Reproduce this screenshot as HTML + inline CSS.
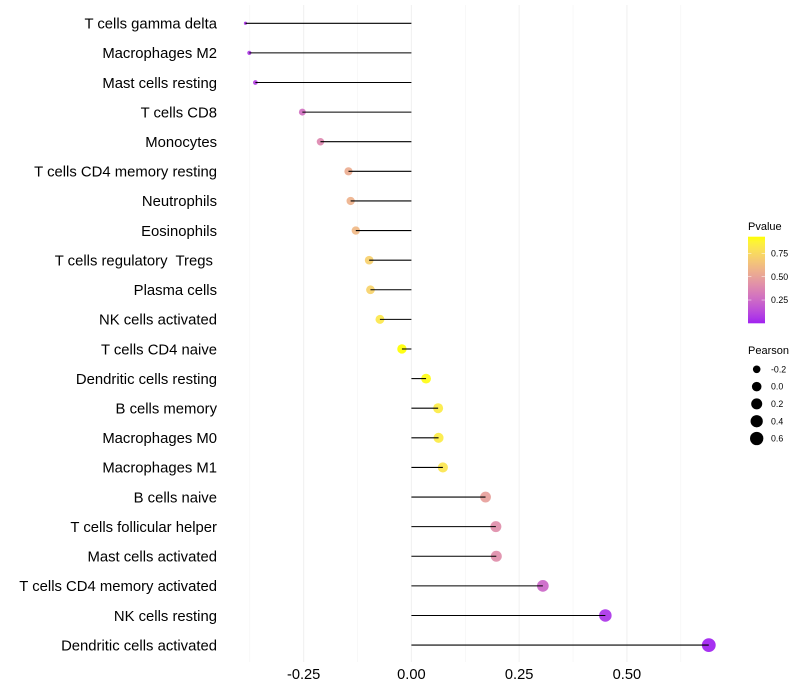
<!DOCTYPE html>
<html>
<head>
<meta charset="utf-8">
<title>Immune cell correlation lollipop chart</title>
<style>
html,body{margin:0;padding:0;background:#fff;width:800px;height:700px;overflow:hidden}
svg{display:block;font-family:"Liberation Sans",Arial,sans-serif}
text{white-space:pre}
</style>
</head>
<body>
<svg id="chart" width="800" height="700" viewBox="0 0 800 700" xmlns="http://www.w3.org/2000/svg">
  <g id="grid"></g>
  <g id="points"></g>
  <g id="stems"></g>
  <g id="ylabels"></g>
  <g id="xlabels"></g>
  <g id="color-legend">
    <text x="748" y="230" font-size="11" fill="#000">Pvalue</text>
  </g>
  <g id="size-legend">
    <text x="748" y="354" font-size="11" fill="#000">Pearson</text>
  </g>
</svg>
<script>
var categories = ["T cells gamma delta","Macrophages M2","Mast cells resting","T cells CD8","Monocytes","T cells CD4 memory resting","Neutrophils","Eosinophils","T cells regulatory  Tregs ","Plasma cells","NK cells activated","T cells CD4 naive","Dendritic cells resting","B cells memory","Macrophages M0","Macrophages M1","B cells naive","T cells follicular helper","Mast cells activated","T cells CD4 memory activated","NK cells resting","Dendritic cells activated"];
var pearson = [-0.385,-0.376,-0.362,-0.253,-0.211,-0.146,-0.141,-0.129,-0.098,-0.095,-0.073,-0.022,0.034,0.062,0.063,0.073,0.172,0.196,0.197,0.305,0.45,0.69];
var pvalue = [0.05,0.06,0.09,0.28,0.38,0.55,0.57,0.6,0.71,0.72,0.82,0.93,0.92,0.84,0.84,0.81,0.49,0.41,0.41,0.24,0.05,0.0];
var xTicks = [-0.25,0,0.25,0.5];
var xTickLabels = ["-0.25","0.00","0.25","0.50"];
var xMinorTicks = [-0.375,-0.125,0.125,0.375,0.625];
var pvalueTicks = [0.25,0.5,0.75];
var pvalueTickLabels = ["0.25","0.50","0.75"];
var pearsonLegend = [-0.2,0,0.2,0.4,0.6];
var pearsonLegendLabels = ["-0.2","0.0","0.2","0.4","0.6"];

var NS = "http://www.w3.org/2000/svg";
function mk(tag, attrs, parent, txt) {
  var e = document.createElementNS(NS, tag);
  for (var k in attrs) e.setAttribute(k, attrs[k]);
  if (txt !== undefined) e.textContent = txt;
  parent.appendChild(e);
  return e;
}
function xScale(v) { return 411.4 + v * 431; }
function yScale(i) { return 23.28 + i * 29.61; }

var pMin = Math.min.apply(null, pvalue), pMax = Math.max.apply(null, pvalue);
var sMin = Math.min.apply(null, pearson), sMax = Math.max.apply(null, pearson);
function rScale(v) {
  var t = Math.max(0, (v - sMin) / (sMax - sMin));
  return 1.6 + 5.3 * Math.sqrt(t);
}
/* Lab interpolation between purple and yellow */
function toLab(c) {
  var l = c.map(function (u) { u /= 255; return u > 0.04045 ? Math.pow((u + 0.055) / 1.055, 2.4) : u / 12.92; });
  var X = (0.4124 * l[0] + 0.3576 * l[1] + 0.1805 * l[2]) / 0.95047;
  var Y = 0.2126 * l[0] + 0.7152 * l[1] + 0.0722 * l[2];
  var Z = (0.0193 * l[0] + 0.1192 * l[1] + 0.9505 * l[2]) / 1.08883;
  var f = function (t) { return t > 0.008856 ? Math.cbrt(t) : 7.787 * t + 16 / 116; };
  return [116 * f(Y) - 16, 500 * (f(X) - f(Y)), 200 * (f(Y) - f(Z))];
}
function fromLab(L) {
  var fy = (L[0] + 16) / 116, fx = fy + L[1] / 500, fz = fy - L[2] / 200;
  var g = function (t) { return t * t * t > 0.008856 ? t * t * t : (t - 16 / 116) / 7.787; };
  var X = g(fx) * 0.95047, Y = g(fy), Z = g(fz) * 1.08883;
  var rgb = [3.2406 * X - 1.5372 * Y - 0.4986 * Z, -0.9689 * X + 1.8758 * Y + 0.0415 * Z, 0.0557 * X - 0.204 * Y + 1.057 * Z];
  return "rgb(" + rgb.map(function (u) {
    u = Math.min(1, Math.max(0, u));
    u = u > 0.0031308 ? 1.055 * Math.pow(u, 1 / 2.4) - 0.055 : 12.92 * u;
    return Math.round(u * 255);
  }).join(",") + ")";
}
var labLow = toLab([160, 32, 240]), labHigh = toLab([255, 255, 0]);
function colorScale(p) {
  var t = (p - pMin) / (pMax - pMin);
  return fromLab(labLow.map(function (a, i) { return a + (labHigh[i] - a) * t; }));
}

var grid = document.getElementById("grid");
xMinorTicks.forEach(function (v) {
  var l = mk("line", {x1: xScale(v), x2: xScale(v), y1: 5, y2: 662, stroke: "#f3f3f3", "stroke-width": 0.6}, grid);
  
  
});
xTicks.forEach(function (v) {
  var l = mk("line", {x1: xScale(v), x2: xScale(v), y1: 5, y2: 662, stroke: "#f1f1f1", "stroke-width": 1.07}, grid);
  
  
});

var pts = document.getElementById("points"), stems = document.getElementById("stems"), yl = document.getElementById("ylabels");
categories.forEach(function (c, i) {
  var y = yScale(i), x = xScale(pearson[i]);
  var dot = mk("circle", {cx: x, cy: y, r: rScale(pearson[i]), fill: colorScale(pvalue[i]), "fill-opacity": 0.92}, pts);
  
  
  var st = mk("line", {x1: xScale(0), x2: x, y1: y, y2: y, stroke: "#000", "stroke-width": 1.07}, stems);
  
  
  var t = mk("text", {x: 217, y: y + 5.3, "text-anchor": "end", "font-size": 14.85, fill: "#000"}, yl, c);
  
  
});

var xl = document.getElementById("xlabels");
xTicks.forEach(function (v, i) {
  var t = mk("text", {x: xScale(v), y: 679, "text-anchor": "middle", "font-size": 14.65, fill: "#000"}, xl, xTickLabels[i]);
  
  
});

/* colour legend */
var cl = document.getElementById("color-legend");
var barTop = 236.7, barBottom = 323.3, barX = 748, barW = 17;
function legY(p) { return barBottom - (p - pMin) / (pMax - pMin) * (barBottom - barTop); }
var defs = mk("defs", {}, cl);
var grad = mk("linearGradient", {id: "pgrad", x1: 0, y1: 1, x2: 0, y2: 0}, defs);
for (var s = 0; s <= 20; s++) {
  mk("stop", {offset: s / 20, "stop-color": colorScale(pMin + (pMax - pMin) * s / 20)}, grad);
}
var bar = mk("rect", {x: barX, y: barTop, width: barW, height: barBottom - barTop, fill: "url(#pgrad)"}, cl);


pvalueTicks.forEach(function (p, i) {
  var y = legY(p);
  mk("line", {x1: barX, x2: barX + 3.4, y1: y, y2: y, stroke: "#fff", "stroke-width": 0.5}, cl);
  mk("line", {x1: barX + barW - 3.4, x2: barX + barW, y1: y, y2: y, stroke: "#fff", "stroke-width": 0.5}, cl);
  var t = mk("text", {x: 771, y: y + 3.1, "font-size": 8.8, fill: "#000"}, cl, pvalueTickLabels[i]);
  
  
});

/* size legend */
var sl = document.getElementById("size-legend");
pearsonLegend.forEach(function (v, i) {
  var y = 369.3 + i * 17.3;
  var d = mk("circle", {cx: 756.7, cy: y, r: rScale(v), fill: "#000"}, sl);
  
  
  var t = mk("text", {x: 771, y: y + 3.1, "font-size": 8.8, fill: "#000"}, sl, pearsonLegendLabels[i]);
  
  
});
</script>
</body>
</html>
